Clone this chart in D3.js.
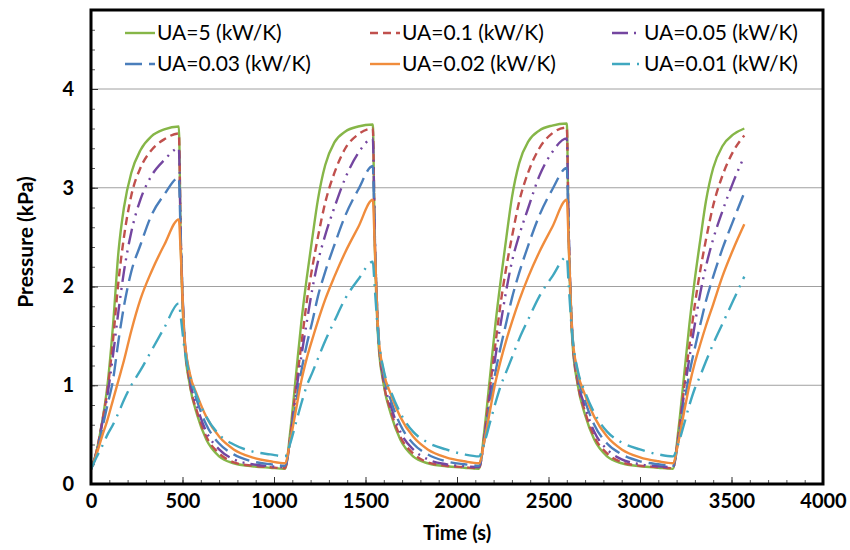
<!DOCTYPE html>
<html>
<head>
<meta charset="utf-8">
<script src="https://cdn.jsdelivr.net/npm/d3@7"></script>
<style>
  html, body { margin: 0; padding: 0; background: #fff; }
  svg text { font-family: Lato, "Open Sans", sans-serif; fill: #000; }
</style>
</head>
<body>
<div id="chart"></div>
<script>
/* ═══════════════════════════════════════════
   Pressure vs time for six UA values
═══════════════════════════════════════════ */

/* ── DATA ── */
const TIMES = [
  0, 30, 60, 90, 120, 150, 180, 220, 270, 330, 400, 480,
  490, 510, 540, 580, 630, 700, 780, 880, 980, 1060,
  1090, 1120, 1150, 1180, 1210, 1240, 1280, 1330, 1390, 1460, 1540,
  1550, 1570, 1600, 1640, 1690, 1760, 1840, 1940, 2040, 2120,
  2150, 2180, 2210, 2240, 2270, 2300, 2340, 2390, 2450, 2520, 2600,
  2610, 2630, 2660, 2700, 2750, 2820, 2900, 3000, 3100, 3180,
  3210, 3240, 3270, 3300, 3330, 3360, 3400, 3450, 3510, 3570
];

const UA_5 = [
  0.15, 0.33, 0.62, 1.0, 1.6, 2.35, 2.8, 3.15, 3.38, 3.52, 3.59, 3.62,
  2.5, 1.45, 1.0, 0.7, 0.45, 0.28, 0.21, 0.18, 0.165, 0.155,
  0.55, 1.1, 1.65, 2.1, 2.5, 2.88, 3.23, 3.46, 3.57, 3.62, 3.64,
  2.5, 1.45, 1.0, 0.7, 0.45, 0.28, 0.21, 0.18, 0.165, 0.155,
  0.55, 1.08, 1.62, 2.08, 2.5, 2.9, 3.25, 3.47, 3.58, 3.63, 3.65,
  2.52, 1.46, 1.0, 0.7, 0.45, 0.28, 0.21, 0.18, 0.165, 0.155,
  0.55, 1.08, 1.62, 2.08, 2.48, 2.86, 3.2, 3.42, 3.54, 3.6
];

const UA_01 = [
  0.15, 0.33, 0.62, 0.95, 1.45, 2.05, 2.5, 2.92, 3.2, 3.38, 3.49, 3.55,
  2.55, 1.5, 1.02, 0.73, 0.48, 0.31, 0.22, 0.185, 0.17, 0.16,
  0.5, 0.98, 1.42, 1.86, 2.2, 2.5, 2.85, 3.15, 3.4, 3.54, 3.6,
  2.58, 1.5, 1.02, 0.73, 0.48, 0.31, 0.22, 0.185, 0.17, 0.16,
  0.5, 0.97, 1.42, 1.85, 2.2, 2.5, 2.86, 3.16, 3.4, 3.55, 3.61,
  2.58, 1.5, 1.02, 0.73, 0.48, 0.31, 0.22, 0.185, 0.17, 0.16,
  0.5, 0.96, 1.4, 1.82, 2.17, 2.47, 2.82, 3.12, 3.37, 3.53
];

const UA_005 = [
  0.15, 0.32, 0.6, 0.9, 1.3, 1.75, 2.15, 2.55, 2.88, 3.12, 3.28, 3.4,
  2.55, 1.52, 1.06, 0.78, 0.53, 0.35, 0.25, 0.2, 0.18, 0.17,
  0.48, 0.92, 1.3, 1.65, 1.98, 2.25, 2.52, 2.8, 3.1, 3.35, 3.5,
  2.6, 1.53, 1.06, 0.78, 0.53, 0.35, 0.25, 0.2, 0.18, 0.17,
  0.47, 0.9, 1.29, 1.64, 1.97, 2.25, 2.52, 2.8, 3.12, 3.36, 3.5,
  2.6, 1.53, 1.06, 0.78, 0.53, 0.35, 0.25, 0.2, 0.18, 0.17,
  0.47, 0.9, 1.28, 1.62, 1.94, 2.2, 2.48, 2.76, 3.06, 3.32
];

const UA_003 = [
  0.15, 0.3, 0.55, 0.8, 1.05, 1.45, 1.8, 2.15, 2.42, 2.72, 2.93, 3.1,
  2.5, 1.52, 1.1, 0.84, 0.6, 0.41, 0.3, 0.23, 0.2, 0.185,
  0.45, 0.82, 1.15, 1.42, 1.65, 1.9, 2.15, 2.42, 2.72, 2.98, 3.22,
  2.55, 1.54, 1.1, 0.84, 0.6, 0.41, 0.3, 0.23, 0.2, 0.185,
  0.44, 0.8, 1.13, 1.4, 1.64, 1.88, 2.14, 2.42, 2.72, 2.98, 3.2,
  2.55, 1.54, 1.1, 0.84, 0.6, 0.41, 0.3, 0.23, 0.2, 0.185,
  0.43, 0.79, 1.12, 1.38, 1.62, 1.85, 2.1, 2.38, 2.67, 2.95
];

const UA_002 = [
  0.15, 0.3, 0.48, 0.65, 0.85, 1.05, 1.25, 1.55, 1.87, 2.15, 2.42, 2.68,
  2.35, 1.5, 1.12, 0.9, 0.68, 0.48, 0.35, 0.27, 0.23, 0.21,
  0.45, 0.75, 1.05, 1.28, 1.47, 1.65, 1.87, 2.1, 2.35, 2.6, 2.88,
  2.45, 1.52, 1.13, 0.9, 0.68, 0.48, 0.35, 0.27, 0.23, 0.21,
  0.44, 0.74, 1.03, 1.26, 1.46, 1.64, 1.86, 2.1, 2.35, 2.6, 2.88,
  2.45, 1.52, 1.13, 0.9, 0.68, 0.48, 0.35, 0.27, 0.23, 0.21,
  0.43, 0.72, 1.0, 1.23, 1.42, 1.6, 1.82, 2.1, 2.38, 2.63
];

const UA_001 = [
  0.15, 0.27, 0.38, 0.5, 0.6, 0.72, 0.85, 1.0, 1.15, 1.35, 1.58, 1.83,
  1.7, 1.38, 1.1, 0.88, 0.68, 0.5, 0.4, 0.33, 0.3, 0.28,
  0.42, 0.62, 0.82, 1.0, 1.13, 1.27, 1.45, 1.65, 1.88, 2.07, 2.25,
  2.0, 1.5, 1.15, 0.93, 0.72, 0.53, 0.42, 0.35, 0.3, 0.28,
  0.42, 0.62, 0.82, 1.0, 1.14, 1.28, 1.47, 1.67, 1.9, 2.1, 2.3,
  2.02, 1.5, 1.15, 0.93, 0.72, 0.53, 0.42, 0.35, 0.3, 0.28,
  0.41, 0.6, 0.8, 0.97, 1.1, 1.24, 1.42, 1.62, 1.86, 2.1
];

const SERIES_NAMES = ['UA=5 (kW/K)', 'UA=0.1 (kW/K)', 'UA=0.05 (kW/K)',
                      'UA=0.03 (kW/K)', 'UA=0.02 (kW/K)', 'UA=0.01 (kW/K)'];
const X_TICKS = [0, 500, 1000, 1500, 2000, 2500, 3000, 3500, 4000];
const Y_TICKS = [0, 1, 2, 3, 4];

/* ── STYLES ── */
const STYLES = [
  { color: '#86b648', dash: null },
  { color: '#c0504d', dash: '8,5' },
  { color: '#7446a0', dash: '16,6,2,6,2,6' },
  { color: '#4a7ebb', dash: '17,7' },
  { color: '#f08c3c', dash: null },
  { color: '#40a8c0', dash: '18,7,2,7' }
];

const series = [UA_5, UA_01, UA_005, UA_003, UA_002, UA_001].map((vals, i) => ({
  name: SERIES_NAMES[i],
  ...STYLES[i],
  points: vals.map((v, j) => ({ t: TIMES[j], p: v }))
}));

/* ── LAYOUT ── */
const W = 850, H = 550;
const margin = { top: 10, right: 27, bottom: 66, left: 91 };
const iW = W - margin.left - margin.right;
const iH = H - margin.top - margin.bottom;

const x = d3.scaleLinear().domain([0, 4000]).range([0, iW]);
const y = d3.scaleLinear().domain([0, 4.8]).range([iH, 0]);

const svg = d3.select('#chart').append('svg')
  .attr('width', W).attr('height', H);

const g = svg.append('g').attr('transform', `translate(${margin.left},${margin.top})`);

/* ── GRID ── */
g.append('g').selectAll('line').data(Y_TICKS.filter(v => v > 0)).enter().append('line')
  .attr('x1', 0).attr('x2', iW)
  .attr('y1', d => y(d)).attr('y2', d => y(d))
  .attr('stroke', '#a0a0a0').attr('stroke-width', 1);

/* ── MINOR TICKS ── */
g.append('g').attr('transform', `translate(0,${iH})`)
  .call(d3.axisBottom(x).tickValues(d3.range(0, 4001, 100)).tickSize(-4).tickFormat(''))
  .call(a => a.select('.domain').remove())
  .selectAll('line').attr('stroke', '#555');
g.append('g')
  .call(d3.axisLeft(y).tickValues(d3.range(0, 4.81, 0.2)).tickSize(-4).tickFormat(''))
  .call(a => a.select('.domain').remove())
  .selectAll('line').attr('stroke', '#555');

/* ── AXES ── */
const xAxis = g.append('g').attr('transform', `translate(0,${iH})`)
  .call(d3.axisBottom(x).tickValues(X_TICKS).tickSize(-7).tickPadding(10).tickFormat(d3.format('d')));
const yAxis = g.append('g')
  .call(d3.axisLeft(y).tickValues(Y_TICKS).tickSize(-7).tickPadding(17).tickFormat(d3.format('d')));

[xAxis, yAxis].forEach(a => {
  a.select('.domain').remove();
  a.selectAll('line').attr('stroke', '#333');
  a.selectAll('text').attr('font-family', 'Lato, sans-serif')
    .attr('font-size', 20).attr('font-weight', 'bold').attr('fill', '#000');
});

/* ── LINES ── */
g.append('clipPath').attr('id', 'plotClip')
  .append('rect').attr('width', iW).attr('height', iH);

const line = d3.line().x(d => x(d.t)).y(d => y(d.p)).curve(d3.curveMonotoneX);

g.append('g').attr('clip-path', 'url(#plotClip)')
  .selectAll('path').data(series).enter().append('path')
  .attr('d', d => line(d.points))
  .attr('fill', 'none')
  .attr('stroke', d => d.color)
  .attr('stroke-width', 2.4)
  .attr('stroke-dasharray', d => d.dash);

/* ── FRAME ── */
g.append('rect').attr('width', iW).attr('height', iH)
  .attr('fill', 'none').attr('stroke', '#000').attr('stroke-width', 3);

/* ── LEGEND ── */
const LEG_COLS = [34, 279, 521];
const LEG_ROWS = [23, 54];

const leg = g.selectAll('.legend-item').data(series).enter().append('g')
  .attr('class', 'legend-item')
  .attr('transform', (d, i) => `translate(${LEG_COLS[i % 3]},${LEG_ROWS[Math.floor(i / 3)]})`);

leg.append('line')
  .attr('x1', 0).attr('x2', 30).attr('y1', 0).attr('y2', 0)
  .attr('stroke', d => d.color).attr('stroke-width', 2.4)
  .attr('stroke-dasharray', d => d.dash);

leg.append('text')
  .attr('x', 32).attr('y', 0).attr('dy', '0.35em')
  .attr('font-size', 21)
  .text(d => d.name);

/* ── AXIS TITLES ── */
svg.append('text')
  .attr('x', margin.left + iW / 2).attr('y', 540)
  .attr('text-anchor', 'middle')
  .attr('font-size', 20).attr('font-weight', 'bold')
  .text('Time (s)');

svg.append('text')
  .attr('transform', 'translate(33,242) rotate(-90)')
  .attr('text-anchor', 'middle')
  .attr('font-size', 21).attr('font-weight', 'bold')
  .text('Pressure (kPa)');
</script>
</body>
</html>
